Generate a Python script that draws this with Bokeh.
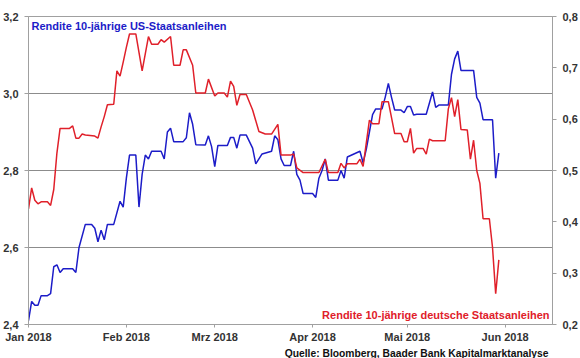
from bokeh.plotting import figure
from bokeh.models import Range1d, LinearAxis, FixedTicker, Label, Title, CustomJSTickFormatter
from bokeh.embed import file_html
from bokeh.resources import INLINE

# Tage seit 1. Januar 2018
month_ticks = [0, 31, 59, 90, 120, 151]
month_labels = ["Jan 2018", "Feb 2018", "Mrz 2018", "Apr 2018", "Mai 2018", "Jun 2018"]
us_ticks = [2.4, 2.6, 2.8, 3.0, 3.2]
de_ticks = [0.2, 0.3, 0.4, 0.5, 0.6, 0.7, 0.8]

us_days = [0, 1, 2, 3, 4, 6, 7, 8, 9, 10, 11, 14, 15, 16, 18, 20, 21, 22, 23, 24, 25, 27,
           29, 30, 31, 32, 34, 35, 36, 37, 38, 39, 42, 43, 44, 45, 46, 49, 50, 51, 52, 53,
           56, 57, 58, 59, 60, 63, 64, 65, 66, 67, 69, 71, 72, 74, 77, 78, 79, 80, 81, 83,
           84, 85, 86, 87, 90, 91, 92, 93, 94, 95, 98, 99, 100, 101, 105, 106, 107, 108,
           109, 110, 112, 113, 114, 115, 116, 118, 119, 120, 121, 122, 123, 126, 128, 129,
           130, 131, 133, 134, 135, 136, 137, 140, 141, 142, 143, 144, 147, 148, 149]
us_yield = [2.41, 2.46, 2.45, 2.45, 2.475, 2.475, 2.48, 2.55, 2.555, 2.535, 2.545, 2.545,
            2.535, 2.60, 2.66, 2.66, 2.65, 2.615, 2.645, 2.62, 2.66, 2.66, 2.72, 2.705,
            2.78, 2.84, 2.84, 2.705, 2.79, 2.84, 2.83, 2.85, 2.85, 2.83, 2.90, 2.91, 2.875,
            2.875, 2.885, 2.95, 2.92, 2.867, 2.866, 2.89, 2.862, 2.81, 2.865, 2.865, 2.886,
            2.886, 2.858, 2.892, 2.892, 2.858, 2.817, 2.843, 2.85, 2.89, 2.88, 2.83, 2.813,
            2.813, 2.85, 2.79, 2.775, 2.74, 2.74, 2.73, 2.78, 2.80, 2.83, 2.775, 2.775,
            2.80, 2.78, 2.835, 2.85, 2.82, 2.855, 2.90, 2.945, 2.96, 2.96, 2.99, 3.026,
            2.99, 2.957, 2.957, 2.95, 2.966, 2.966, 2.944, 2.946, 2.946, 3.004, 2.964,
            2.97, 2.97, 2.97, 3.05, 3.09, 3.11, 3.06, 3.06, 3.06, 2.99, 2.975, 2.932,
            2.932, 2.78, 2.845]

de_days = [0, 1, 2, 3, 4, 6, 7, 8, 9, 10, 13, 14, 15, 16, 17, 18, 21, 22, 23, 24, 25, 27,
           28, 29, 30, 31, 32, 34, 36, 38, 39, 41, 42, 43, 45, 46, 48, 49, 50, 52, 53, 56,
           57, 59, 60, 62, 63, 64, 65, 66, 67, 69, 71, 73, 75, 77, 79, 80, 83, 84, 85, 87,
           92, 94, 95, 98, 99, 100, 101, 104, 105, 106, 108, 109, 111, 112, 114, 116, 118,
           119, 120, 121, 122, 123, 125, 126, 127, 128, 131, 132, 133, 134, 135, 136, 137,
           139, 140, 141, 142, 143, 144, 146, 147, 148, 149]
de_yield = [0.425, 0.466, 0.442, 0.435, 0.439, 0.439, 0.432, 0.463, 0.534, 0.582, 0.582,
            0.587, 0.563, 0.563, 0.571, 0.569, 0.567, 0.563, 0.585, 0.605, 0.628, 0.629,
            0.694, 0.684, 0.711, 0.74, 0.766, 0.766, 0.694, 0.761, 0.746, 0.746, 0.755,
            0.750, 0.761, 0.705, 0.705, 0.735, 0.735, 0.705, 0.651, 0.651, 0.678, 0.645,
            0.651, 0.651, 0.643, 0.674, 0.664, 0.627, 0.648, 0.648, 0.618, 0.576, 0.571,
            0.571, 0.590, 0.530, 0.530, 0.532, 0.505, 0.496, 0.496, 0.522, 0.496, 0.496,
            0.514, 0.505, 0.513, 0.513, 0.522, 0.508, 0.598, 0.591, 0.591, 0.634, 0.634,
            0.572, 0.572, 0.556, 0.556, 0.582, 0.534, 0.543, 0.543, 0.532, 0.561, 0.558,
            0.558, 0.558, 0.62, 0.642, 0.605, 0.638, 0.58, 0.579, 0.522, 0.559, 0.50,
            0.475, 0.406, 0.406, 0.35, 0.26, 0.326]

us_title = "Rendite 10-jährige US-Staatsanleihen"
de_title = "Rendite 10-jährige deutsche Staatsanleihen"
source = "Quelle: Bloomberg, Baader Bank Kapitalmarktanalyse"

FONT = "Liberation Sans"
AXIS_GRAY = "#a0a0a0"
BLUE = "#1c1cc8"
RED = "#e0202a"

p = figure(width=580, height=358, output_backend="svg", toolbar_location=None,
           x_range=Range1d(0, 166), y_range=Range1d(2.4, 3.2),
           min_border_left=27, min_border_right=27, min_border_top=16, min_border_bottom=33)
p.extra_y_ranges = {"de": Range1d(0.2, 0.8)}
p.background_fill_color = "white"
p.border_fill_color = "white"
p.outline_line_color = AXIS_GRAY
p.outline_line_width = 1

fmt = CustomJSTickFormatter(code="return tick.toFixed(1).replace('.', ',');")

def style_axis(ax):
    ax.axis_line_color = AXIS_GRAY
    ax.major_tick_line_color = AXIS_GRAY
    ax.minor_tick_line_color = None
    ax.major_tick_in = 0
    ax.major_tick_out = 4
    ax.major_label_text_font = FONT
    ax.major_label_text_font_style = "bold"
    ax.major_label_text_font_size = "11px"
    ax.major_label_text_color = "#333333"
    ax.major_label_standoff = 6

# left axis
p.yaxis.ticker = FixedTicker(ticks=us_ticks)
p.yaxis.formatter = fmt
style_axis(p.yaxis[0])

# bottom axis
p.xaxis.ticker = FixedTicker(ticks=month_ticks)
p.xaxis.major_label_overrides = {t: l for t, l in zip(month_ticks, month_labels)}
style_axis(p.xaxis[0])
p.xaxis.major_tick_out = 3
p.xaxis.major_label_standoff = 3

# right axis
ax_r = LinearAxis(y_range_name="de", ticker=FixedTicker(ticks=de_ticks), formatter=fmt)
style_axis(ax_r)
p.add_layout(ax_r, "right")

p.xgrid.grid_line_color = None
p.ygrid.ticker = FixedTicker(ticks=us_ticks)
p.ygrid.grid_line_color = "#8c8c8c"
p.ygrid.grid_line_width = 1

p.line(us_days, us_yield, line_color=BLUE, line_width=1.5)
p.line(de_days, de_yield, line_color=RED, line_width=1.5, y_range_name="de")

p.add_layout(Label(x=0, y=3.2, x_offset=3, y_offset=-3, text=us_title,
                   text_font=FONT, text_font_style="bold", text_font_size="11px",
                   text_color=BLUE, text_baseline="top", text_align="left"))
p.add_layout(Label(x=166, y=2.4, x_offset=-3, y_offset=4, text=de_title,
                   text_font=FONT, text_font_style="bold", text_font_size="11px",
                   text_color=RED, text_baseline="bottom", text_align="right"))

src = Title(text=source, align="right", offset=4, standoff=0,
            text_font=FONT, text_font_style="bold", text_font_size="10.3px",
            text_color="#111111")
p.add_layout(src, "below")

open("out.html", "w").write(file_html(p, INLINE))
